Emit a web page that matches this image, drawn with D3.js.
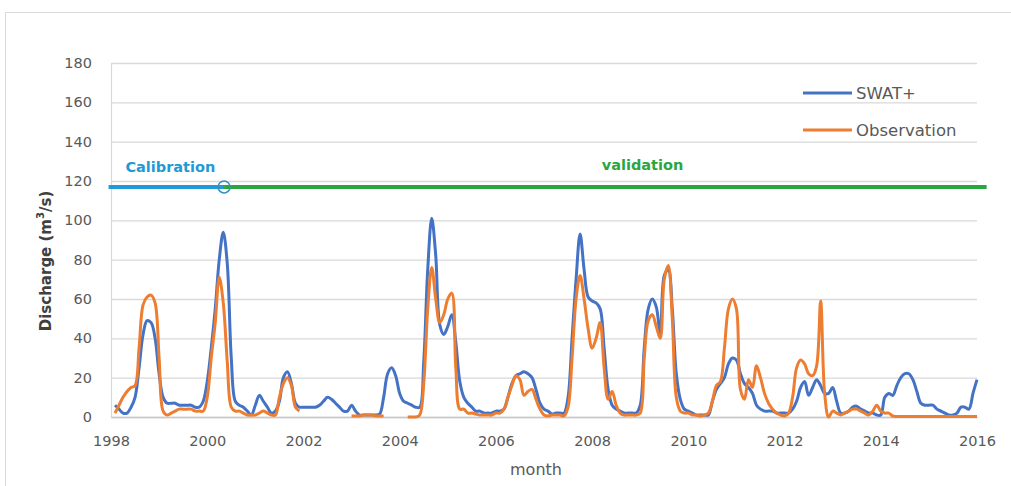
<!DOCTYPE html>
<html>
<head>
<meta charset="utf-8">
<script src="https://cdn.jsdelivr.net/npm/d3@7"></script>
<style>
  html, body { margin: 0; padding: 0; background: #ffffff; }
  svg { display: block; font-family: "DejaVu Sans", "Liberation Sans", sans-serif; }
</style>
</head>
<body>
<svg id="chart" width="1011" height="486"></svg>
<script>
// ---- data (monthly, index 0 = Jan 1998) ----
const startYear = 1998;
const xTickYears = [1998, 2000, 2002, 2004, 2006, 2008, 2010, 2012, 2014, 2016];
const yTickValues = [0, 20, 40, 60, 80, 100, 120, 140, 160, 180];
const seriesNames = ["SWAT+", "Observation"];
const periodLabels = ["Calibration", "validation"];
const periodLevel = 117;          // discharge level of the period bar
const calibrationEnd = 2000.35;   // split between calibration / validation
const periodStart = 1997.95;
const periodEnd = 2016.2;

const swat = [
  null, 6, 4, 2, 2, 5, 10, 25, 42, 49, 48, 40,
  22, 10, 7, 7, 7, 6, 6, 6, 6, 5, 5, 8,
  18, 35, 55, 80, 94, 78, 30, 8, 6, 5, 3, 1,
  6, 11, 8, 5, 2, 3, 8, 20, 23, 17, 7, 5,
  5, 5, 5, 5, 6, 8, 10, 9, 7, 5, 3, 3,
  6, 3, 1, 1, 1, 1, 1, 1.5, 10, 22, 25, 21,
  12, 8, 7, 6, 5, 5, 28, 75, 101, 82, 47, 42,
  46, 52, 38, 18, 10, 7, 5, 3, 3, 2, 2, 2,
  3, 3, 4, 10, 17, 21, 22, 23, 22, 20, 14, 7,
  4, 3, 1.5, 2, 2, 2, 10, 40, 70, 93, 75, 61,
  59, 58, 55, 35, 14, 6, 4, 3, 2, 2, 2, 2,
  6, 35, 55, 60, 56, 42, 72, 75, 55, 22, 9, 4,
  3, 2, 1, 1, 1, 1, 8, 14, 17, 20, 27, 30,
  29, 22, 17, 15, 12, 6, 4, 3, 3, 3, 2, 2,
  2, 2, 4, 8, 15, 18, 11, 15, 19, 16, 12, 12,
  15, 8, 2, 2, 3, 5, 5.5, 4, 3, 2, 2, 1,
  1, 10, 12, 11, 16, 20, 22, 22, 19, 13, 7, 6,
  6, 6, 4, 3, 2, 1, 1, 2, 5, 5, 4, 12,
  19
];

const observation = [
  null, 2, 6, 10, 13, 15, 16, 35, 57, 61, 62, 58,
  30, 3, 1, 2, 3, 4, 4, 4, 4, 3, 3, 3,
  10, 30, 48, 71, 58, 28, 5, 3, 3, 2, 1, 1,
  1, 2, 3, 2, 1, 1, 10, 17, 20, 16, 5, 3,
  null, null, null, null, null, null, null, null, null, null, null, null,
  0.5, 0.5, 0.5, 1, 1, 1, 0.5, 0.5, 0.5, null, null, null,
  null, null, 0, 0, 0, 1, 17, 55, 76, 60, 48, 52,
  60, 63, 25, 4, 4, 2, 2, 1.5, 1, 1, 1, 1,
  2, 2, 4, 10, 16, 21, 19, 11, 13, 14, 9, 4,
  1, 0.5, 1, 1, 1, 0.5, 5, 30, 60, 72, 60, 45,
  35, 40, 48, 25, 9, 13, 6, 2, 1, 1, 1, 1,
  2, 30, 49, 52, 46, 40, 70, 77, 50, 10, 3, 2,
  2, 1, 1, 0.5, 1, 2, 8, 16, 18, 35, 55, 60,
  55, 14, 9, 19, 15, 26, 20, 12, 7, 4, 2, 1,
  0.5, 2, 10, 25, 29, 27, 22, 21, 26, 59, 12, 0,
  3, 2, 1, 2, 3, 4, 4, 3, 2, 1, 3, 6,
  3, 2, 2, 0.5, 0.3, 0.3, 0.3, 0.3, 0.3, 0.3, 0.3, 0.3,
  0.3, 0.3, 0.3, 0.3, 0.3, 0.3, 0.3, 0.3, 0.3, 0.3, 0.3, 0.3,
  0.3
];

// ---- layout ----
const svg = d3.select("#chart");
const plot = { left: 111, right: 977, top: 63, bottom: 417 };
const colors = { swat: "#4472c4", obs: "#ed7d31", grid: "#d9d9d9", text: "#595959",
                 calib: "#1e9ad6", valid: "#2aa640" };

const x = d3.scaleLinear().domain([startYear, 2016]).range([plot.left, plot.right]);
const y = d3.scaleLinear().domain([0, 180]).range([plot.bottom, plot.top]);

// outer border
svg.append("rect").attr("x", 5.5).attr("y", 12.5).attr("width", 1020).attr("height", 490)
  .attr("fill", "none").attr("stroke", "#d9d9d9").attr("stroke-width", 1);

// y axis + gridlines
const yAxis = svg.append("g").attr("transform", `translate(${plot.left},0)`)
  .call(d3.axisLeft(y).tickValues(yTickValues).tickSize(-(plot.right - plot.left)).tickSizeOuter(0).tickPadding(19));
yAxis.select(".domain").attr("stroke", colors.grid).attr("stroke-width", 1.2);
yAxis.selectAll(".tick line").attr("stroke", colors.grid).attr("stroke-width", 1.3);
yAxis.selectAll(".tick text").attr("fill", colors.text).attr("font-size", 14.5);
yAxis.attr("font-family", null);

// x axis
const xAxis = svg.append("g").attr("transform", `translate(0,${plot.bottom})`)
  .call(d3.axisBottom(x).tickValues(xTickYears).tickFormat(d3.format("d")).tickSize(0).tickPadding(19));
xAxis.select(".domain").attr("stroke", "#c8c8c8").attr("stroke-width", 1.3);
xAxis.selectAll(".tick text").attr("fill", colors.text).attr("font-size", 14.5);
xAxis.attr("font-family", null);

// axis titles
const yt = svg.append("text")
  .attr("transform", `translate(46,261) rotate(-90)`)
  .attr("text-anchor", "middle").attr("dominant-baseline", "central")
  .attr("font-weight", "bold").attr("font-size", 15).attr("fill", "#404040");
yt.append("tspan").text("Discharge  (m");
yt.append("tspan").attr("font-size", 10).attr("dy", -6).text("3");
yt.append("tspan").attr("dy", 6).text("/s)");

svg.append("text").attr("x", (plot.left + plot.right) / 2 - 8).attr("y", 469)
  .attr("text-anchor", "middle").attr("dominant-baseline", "central")
  .attr("font-size", 16).attr("fill", colors.text).text("month");

// period bar
svg.append("line").attr("x1", x(periodStart)).attr("x2", x(calibrationEnd))
  .attr("y1", y(periodLevel)).attr("y2", y(periodLevel))
  .attr("stroke", colors.calib).attr("stroke-width", 4);
svg.append("line").attr("x1", x(calibrationEnd)).attr("x2", x(periodEnd))
  .attr("y1", y(periodLevel)).attr("y2", y(periodLevel))
  .attr("stroke", colors.valid).attr("stroke-width", 4);
svg.append("circle").attr("cx", x(calibrationEnd)).attr("cy", y(periodLevel)).attr("r", 6)
  .attr("fill", "none").attr("stroke", "#3a8fc0").attr("stroke-width", 1.5);

svg.append("text").attr("x", x(1998.3)).attr("y", y(periodLevel) - 15)
  .attr("font-weight", "bold").attr("font-size", 14.5).attr("fill", colors.calib).text(periodLabels[0]);
svg.append("text").attr("x", x(2008.2)).attr("y", y(periodLevel) - 17)
  .attr("font-weight", "bold").attr("font-size", 14.5).attr("fill", colors.valid).text(periodLabels[1]);

// series lines
const toPoints = arr => arr.map((v, i) => ({ t: startYear + i / 12, v }));
const line = d3.line()
  .defined(d => d.v !== null)
  .x(d => x(d.t)).y(d => y(d.v))
  .curve(d3.curveCatmullRom.alpha(0.5));

svg.append("path").datum(toPoints(swat))
  .attr("fill", "none").attr("stroke", colors.swat).attr("stroke-width", 3)
  .attr("stroke-linejoin", "round").attr("d", line);
svg.append("path").datum(toPoints(observation))
  .attr("fill", "none").attr("stroke", colors.obs).attr("stroke-width", 3)
  .attr("stroke-linejoin", "round").attr("d", line);

// legend
const legend = svg.append("g");
[[seriesNames[0], colors.swat, 93], [seriesNames[1], colors.obs, 130]].forEach(([name, c, ly]) => {
  legend.append("line").attr("x1", 803).attr("x2", 852).attr("y1", ly).attr("y2", ly)
    .attr("stroke", c).attr("stroke-width", 3);
  legend.append("text").attr("x", 856).attr("y", ly).attr("dominant-baseline", "central")
    .attr("font-size", 16.5).attr("fill", colors.text).text(name);
});
</script>
</body>
</html>
